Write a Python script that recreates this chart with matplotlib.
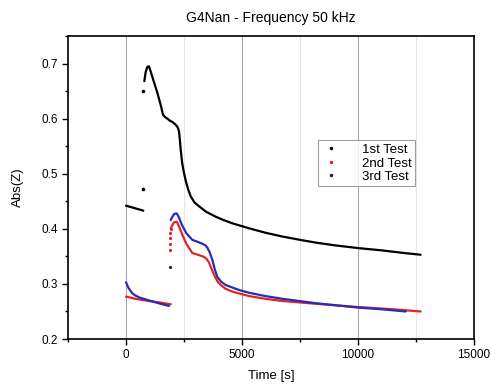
import matplotlib.pyplot as plt
from matplotlib.lines import Line2D
from matplotlib.ticker import MultipleLocator

plt.rcParams['font.family'] = ['Liberation Sans', 'DejaVu Sans']

# 1st Test (black)
t1_a = [0, 250, 500, 746]
z1_a = [0.442, 0.439, 0.436, 0.433]
t1_b = [790, 850, 920, 991, 1060, 1200, 1350, 1500, 1595, 1680, 1782, 1900, 2000,
        2140, 2230, 2284, 2320, 2357, 2420, 2500, 2600, 2700, 2788, 2950, 3146,
        3450, 3866, 4200, 4583, 5300, 6000, 6737, 7500, 8176, 9000, 10012, 11000,
        12000, 12700]
z1_b = [0.668, 0.685, 0.694, 0.695, 0.686, 0.667, 0.647, 0.624, 0.607, 0.603, 0.600,
        0.596, 0.594, 0.589, 0.584, 0.577, 0.562, 0.544, 0.520, 0.501, 0.483, 0.469,
        0.459, 0.448, 0.441, 0.431, 0.422, 0.416, 0.410, 0.401, 0.393, 0.386, 0.380,
        0.375, 0.370, 0.365, 0.361, 0.356, 0.353]
t1_pts = [746, 746]
z1_pts = [0.473, 0.650]

# 2nd Test (red)
t2_a = [0, 400, 991, 1500, 1926]
z2_a = [0.277, 0.273, 0.269, 0.266, 0.263]
t2_b = [1926, 2000, 2080, 2185, 2280, 2400, 2600, 2858, 3100, 3362, 3480, 3577,
        3700, 3836, 3950, 4082, 4300, 4583, 5300, 6000, 6737, 8176, 10012, 11500,
        12700]
z2_b = [0.401, 0.407, 0.412, 0.413, 0.405, 0.392, 0.373, 0.356, 0.353, 0.349,
        0.345, 0.339, 0.326, 0.313, 0.304, 0.298, 0.291, 0.286, 0.278, 0.273, 0.269,
        0.264, 0.258, 0.254, 0.250]
t2_pts = [1900, 1905, 1910, 1915, 1920]
z2_pts = [0.362, 0.372, 0.383, 0.392, 0.400]

# 3rd Test (blue)
t3_a = [0, 60, 120, 200, 272, 400, 600, 991, 1400, 1853]
z3_a = [0.303, 0.297, 0.292, 0.287, 0.283, 0.279, 0.275, 0.270, 0.265, 0.260]
t3_b = [1926, 2000, 2080, 2185, 2280, 2400, 2600, 2858, 3050, 3290, 3420, 3505,
        3600, 3720, 3830, 3935, 4100, 4295, 4870, 5300, 6000, 6737, 8176, 10012,
        11000, 12055]
z3_b = [0.416, 0.422, 0.427, 0.428, 0.421, 0.408, 0.392, 0.380, 0.377, 0.373,
        0.370, 0.366, 0.358, 0.344, 0.326, 0.313, 0.304, 0.298, 0.289, 0.284, 0.278,
        0.273, 0.265, 0.257, 0.254, 0.250]
t3_pts = [1883]
z3_pts = [0.330]

c1, c2, c3 = "black", "#e02525", "#2a2ab4"

fig = plt.figure(figsize=(4.91, 3.87), dpi=100)
ax = fig.add_axes([0.1385, 0.124, 0.8269, 0.783])

# grid lines (vertical only)
for x in [2500, 7500, 12500]:
    ax.axvline(x, color="#e6e6e6", lw=0.8, zorder=0)
for x in [0, 5000, 10000]:
    ax.axvline(x, color="#a8a8a8", lw=0.8, zorder=0)

for t, z, c in [(t1_a, z1_a, c1), (t1_b, z1_b, c1),
                (t2_a, z2_a, c2), (t2_b, z2_b, c2),
                (t3_a, z3_a, c3), (t3_b, z3_b, c3)]:
    ax.plot(t, z, color=c, lw=1.6, solid_capstyle="round", solid_joinstyle="round")
ax.plot(t1_pts, z1_pts, ls="none", marker="o", ms=1.6, color=c1)
ax.plot(t2_pts, z2_pts, ls="none", marker="o", ms=1.3, color=c2)
ax.plot(t3_pts, z3_pts, ls="none", marker="o", ms=1.3, color="#202040")

ax.set_xlim(-2500, 15000)
ax.set_ylim(0.2, 0.75)
ax.xaxis.set_major_locator(MultipleLocator(5000))
ax.xaxis.set_minor_locator(MultipleLocator(2500))
ax.yaxis.set_minor_locator(MultipleLocator(0.05))
ax.set_yticks([0.2, 0.3, 0.4, 0.5, 0.6, 0.7])
ax.tick_params(which="major", direction="out", length=4, width=1, labelsize=8.5)
ax.tick_params(which="minor", direction="out", length=2.5, width=1)
for s in ax.spines.values():
    s.set_linewidth(1.2)

ax.set_xlabel("Time [s]", fontsize=9.5, labelpad=6)
ax.set_ylabel("Abs(Z)", fontsize=9.5, labelpad=12)
ax.set_title("G4Nan - Frequency 50 kHz", fontsize=10, pad=10)

handles = [Line2D([], [], ls="none", marker="o", ms=1.5, color=c1),
           Line2D([], [], ls="none", marker="o", ms=1.5, color=c2),
           Line2D([], [], ls="none", marker="o", ms=1.5, color="#202040")]
leg = ax.legend(handles, ["1st Test", "2nd Test", "3rd Test"], loc="upper left",
                bbox_to_anchor=(0.60, 0.677), fontsize=9.5, frameon=True,
                fancybox=False, edgecolor="#888888", handletextpad=1.6,
                borderpad=0.25, labelspacing=0.1, handlelength=1.5)
leg.get_frame().set_linewidth(0.8)

fig.savefig("out.png", dpi=100)
